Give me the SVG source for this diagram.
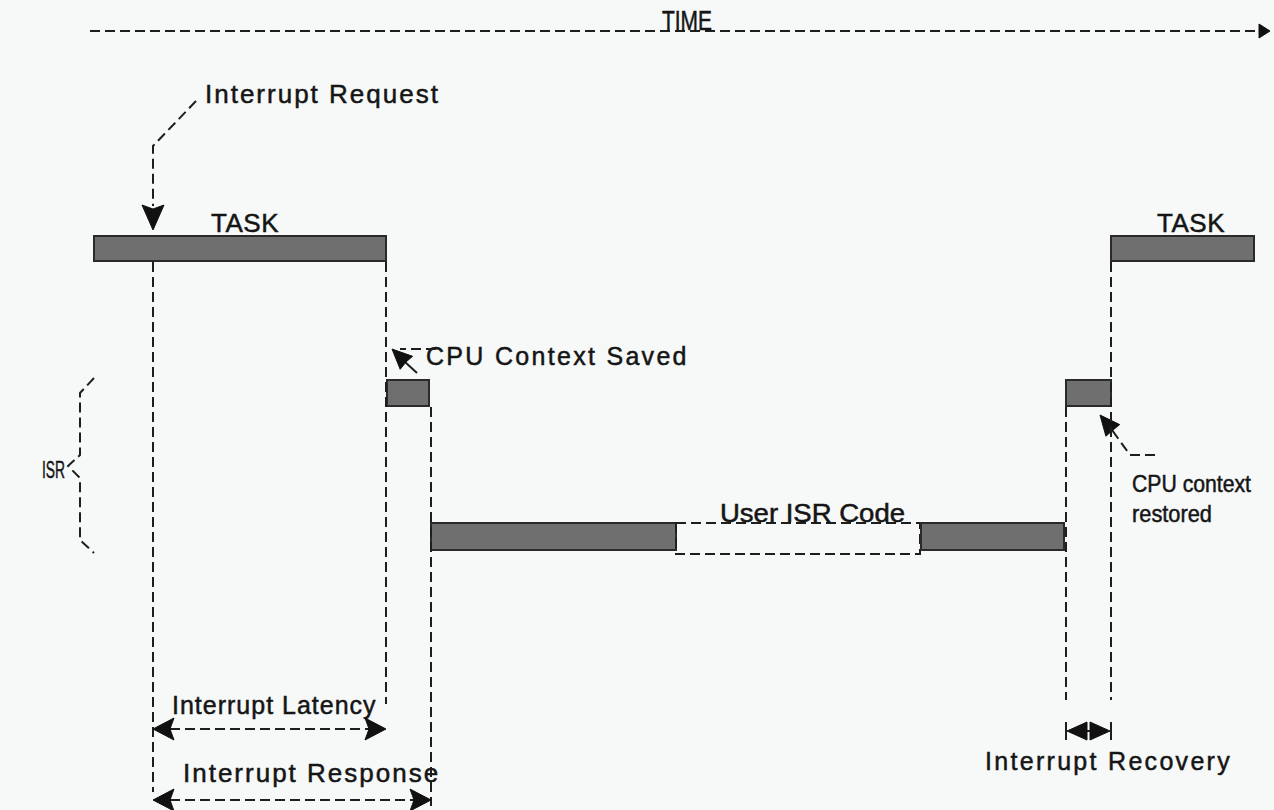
<svg xmlns="http://www.w3.org/2000/svg" width="1274" height="810" viewBox="0 0 1274 810">
<defs>
<style>
.t{font-family:"Liberation Sans",Arial,sans-serif;fill:#151515;stroke:#151515;stroke-width:0.5}
.bar{fill:#6f6f6f;stroke:#2a2a2a;stroke-width:2}
.d{fill:none;stroke:#1e1e1e;stroke-width:2;stroke-dasharray:10,5}
.s{fill:none;stroke:#1e1e1e;stroke-width:2}
.ah{fill:#111;stroke:#111;stroke-width:1}
</style>
</defs>
<rect width="1274" height="810" fill="#f7f9f9"/>

<g id="time-axis">
<line class="d" x1="90" y1="31" x2="1260" y2="31"/>
<text class="t" x="662" y="30" font-size="27" textLength="50" lengthAdjust="spacingAndGlyphs">TIME</text>
</g>

<g id="task-left">
<rect class="bar" x="94" y="236" width="292" height="25"/>
<text class="t" x="211" y="232" font-size="26" letter-spacing="0.5">TASK</text>
</g>

<g id="task-right">
<rect class="bar" x="1111" y="236" width="143" height="25"/>
<text class="t" x="1157" y="232" font-size="26" letter-spacing="0.5">TASK</text>
</g>

<g id="context-save-bar">
<rect class="bar" x="387" y="380" width="42" height="26"/>
</g>

<g id="context-restore-bar">
<rect class="bar" x="1066" y="380" width="45" height="26"/>
</g>

<g id="user-isr">
<rect class="bar" x="431" y="523" width="245" height="27"/>
<rect x="676" y="523" width="244" height="31" fill="none" stroke="#1e1e1e" stroke-width="2" stroke-dasharray="10,5"/>
<rect class="bar" x="921" y="523" width="143" height="27"/>
<text class="t" x="720" y="522" font-size="25" textLength="185" lengthAdjust="spacingAndGlyphs">User ISR Code</text>
</g>

<g id="isr-label">
<text class="t" x="42" y="478" font-size="24" textLength="23" lengthAdjust="spacingAndGlyphs">ISR</text>
<path class="d" d="M94,378 L80,393 L80,455 L68,466 L80,478 L80,540 L94,553" stroke-dasharray="10,4"/>
</g>

<g id="interrupt-request">
<text class="t" x="205" y="103" font-size="26" letter-spacing="2">Interrupt Request</text>
</g>

<g id="cpu-saved-label">
<text class="t" x="426" y="365" font-size="25" letter-spacing="2.3">CPU Context Saved</text>
</g>

<g id="cpu-restored-label">
<text class="t" x="1132" y="492" font-size="24" textLength="119" lengthAdjust="spacingAndGlyphs">CPU context</text>
<text class="t" x="1132" y="522" font-size="24" textLength="80" lengthAdjust="spacingAndGlyphs">restored</text>
</g>

<g id="latency-label">
<text class="t" x="172" y="714" font-size="25" letter-spacing="1">Interrupt Latency</text>
</g>
<g id="response-label">
<text class="t" x="183" y="782" font-size="26" letter-spacing="2">Interrupt Response</text>
</g>
<g id="recovery-label">
<text class="t" x="985" y="770" font-size="25" letter-spacing="2.3">Interrupt Recovery</text>
</g>

<g id="connectors">
<!-- time arrowhead -->
<polygon class="ah" points="1270,31 1259,24 1259,38"/>
<!-- interrupt request leader -->
<path class="d" d="M196,101 L153,146 L153,206"/>
<polygon class="ah" points="153,230 142,205 153,209 164,205"/>
<!-- cpu context saved leader -->
<path class="d" d="M436,349 L400,349" stroke-dasharray="8,4"/>
<line class="s" x1="405" y1="362" x2="417" y2="373"/>
<polygon class="ah" points="392,349 412.6,356.3 406,362 400.2,369.3"/>
<!-- cpu context restored leader -->
<path class="d" d="M1155,455 L1130,455 L1112,430" stroke-dasharray="8,4"/>
<polygon class="ah" points="1100,415 1119.7,424.6 1113,430 1105.9,436.2"/>
<!-- vertical guides -->
<line class="d" x1="153" y1="262" x2="153" y2="792"/>
<line class="d" x1="386" y1="262" x2="386" y2="704"/>
<line class="d" x1="431" y1="407" x2="431" y2="806"/>
<line class="d" x1="1066" y1="407" x2="1066" y2="700"/>
<line class="d" x1="1111" y1="262" x2="1111" y2="700"/>
<line class="s" x1="1066" y1="722" x2="1066" y2="740"/>
<line class="s" x1="1111" y1="722" x2="1111" y2="740"/>
<!-- interrupt latency -->
<line class="d" x1="170" y1="729" x2="370" y2="729"/>
<polygon class="ah" points="153,729 174,718 170,729 174,740"/>
<polygon class="ah" points="386,729 365,718 369,729 365,740"/>
<!-- interrupt response -->
<line class="d" x1="170" y1="800" x2="415" y2="800"/>
<polygon class="ah" points="153,800 174,789 170,800 174,811"/>
<polygon class="ah" points="431,800 410,789 414,800 410,811"/>
<!-- interrupt recovery -->
<line class="s" x1="1080" y1="731" x2="1097" y2="731"/>
<polygon class="ah" points="1067,731 1087,722 1087,740"/>
<polygon class="ah" points="1110,731 1090,722 1090,740"/>
</g>
</svg>
